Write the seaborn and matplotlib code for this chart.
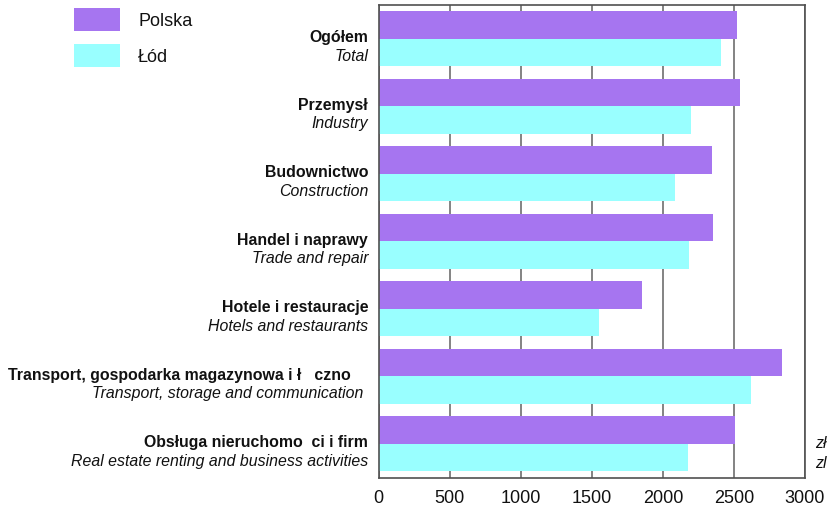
import matplotlib
matplotlib.use("Agg")
import matplotlib.pyplot as plt
from matplotlib.patches import Rectangle
import seaborn as sns
import pandas as pd

# Average monthly gross wages by section (zł)
categories_pl = [
    "Ogółem",
    "Przemysł",
    "Budownictwo",
    "Handel i naprawy",
    "Hotele i restauracje",
    "Transport, gospodarka magazynowa i ł   czno    ",
    "Obsługa nieruchomo  ci i firm",
]
categories_en = [
    "Total",
    "Industry",
    "Construction",
    "Trade and repair",
    "Hotels and restaurants",
    "Transport, storage and communication ",
    "Real estate renting and business activities",
]
series_names = ["Polska", "Łód"]
polska = [2521, 2542, 2345, 2352, 1853, 2837, 2507]
lodz = [2408, 2197, 2085, 2183, 1551, 2619, 2176]
x_ticks = [0, 500, 1000, 1500, 2000, 2500, 3000]
colors = ["#A675F0", "#99FFFF"]

df = pd.DataFrame({
    "section": categories_pl * 2,
    "region": [series_names[0]] * len(polska) + [series_names[1]] * len(lodz),
    "value": polska + lodz,
})

sns.set_theme(style="white")
plt.rcParams["font.family"] = ["Liberation Sans", "DejaVu Sans"]

W, H = 839, 506
fig = plt.figure(figsize=(W / 100, H / 100), dpi=100)
left, right, top, bottom = 378.5, 805.0, 6.0, 478.5
ax = fig.add_axes([left / W, 1 - bottom / H, (right - left) / W, (bottom - top) / H])

sns.barplot(
    data=df, y="section", x="value", hue="region", orient="h",
    order=categories_pl, hue_order=series_names, palette=colors,
    width=0.81, saturation=1, errorbar=None, ax=ax, legend=False,
    linewidth=0,
)

ax.set_xlim(0, 3000)
ax.set_ylim(len(categories_pl) - 0.5, -0.5)
ax.set_xticks(x_ticks)
ax.set_xticklabels([str(t) for t in x_ticks], fontsize=13, color="#111111")
ax.tick_params(axis="x", length=0, pad=8)
ax.set_yticks([])
ax.set_xlabel("")
ax.set_ylabel("")

ax.set_axisbelow(True)
ax.xaxis.grid(True, color="#7a7a7a", linewidth=1.3)
ax.yaxis.grid(False)
for s in ax.spines.values():
    s.set_visible(True)
    s.set_color("#505050")
    s.set_linewidth(1.2)

# Two-line category labels: Polish (bold) above English (italic)
tr = ax.get_yaxis_transform()
xoff = -10.5 / (right - left)
for i, (pl, en) in enumerate(zip(categories_pl, categories_en)):
    ax.text(xoff, i - 0.03, pl, transform=tr, ha="right", va="center",
            fontsize=11.4, fontweight="bold", color="#111111")
    ax.text(xoff, i + 0.245, en, transform=tr, ha="right", va="center",
            fontsize=11.4, fontstyle="italic", color="#111111")

# Legend, laid out in figure pixels
def fx(px):
    return px / W


def fy(py):
    return 1 - py / H


for (y0, y1), c, name in zip([(9, 32), (45, 68)], colors, series_names):
    fig.patches.append(Rectangle((fx(74), fy(y1)), fx(120) - fx(74), fy(y0) - fy(y1),
                                 transform=fig.transFigure, facecolor=c,
                                 edgecolor="none"))
    fig.text(fx(138), fy((y0 + y1) / 2 + 0.5), name, ha="left", va="center",
             fontsize=13, color="#111111")

# Unit label
fig.text(fx(815), fy(443), "zł", ha="left", va="center", fontsize=11.4,
         fontstyle="italic", color="#111111")
fig.text(fx(815), fy(464), "zl", ha="left", va="center", fontsize=11.4,
         fontstyle="italic", color="#111111")

fig.savefig("out.png", dpi=100)
